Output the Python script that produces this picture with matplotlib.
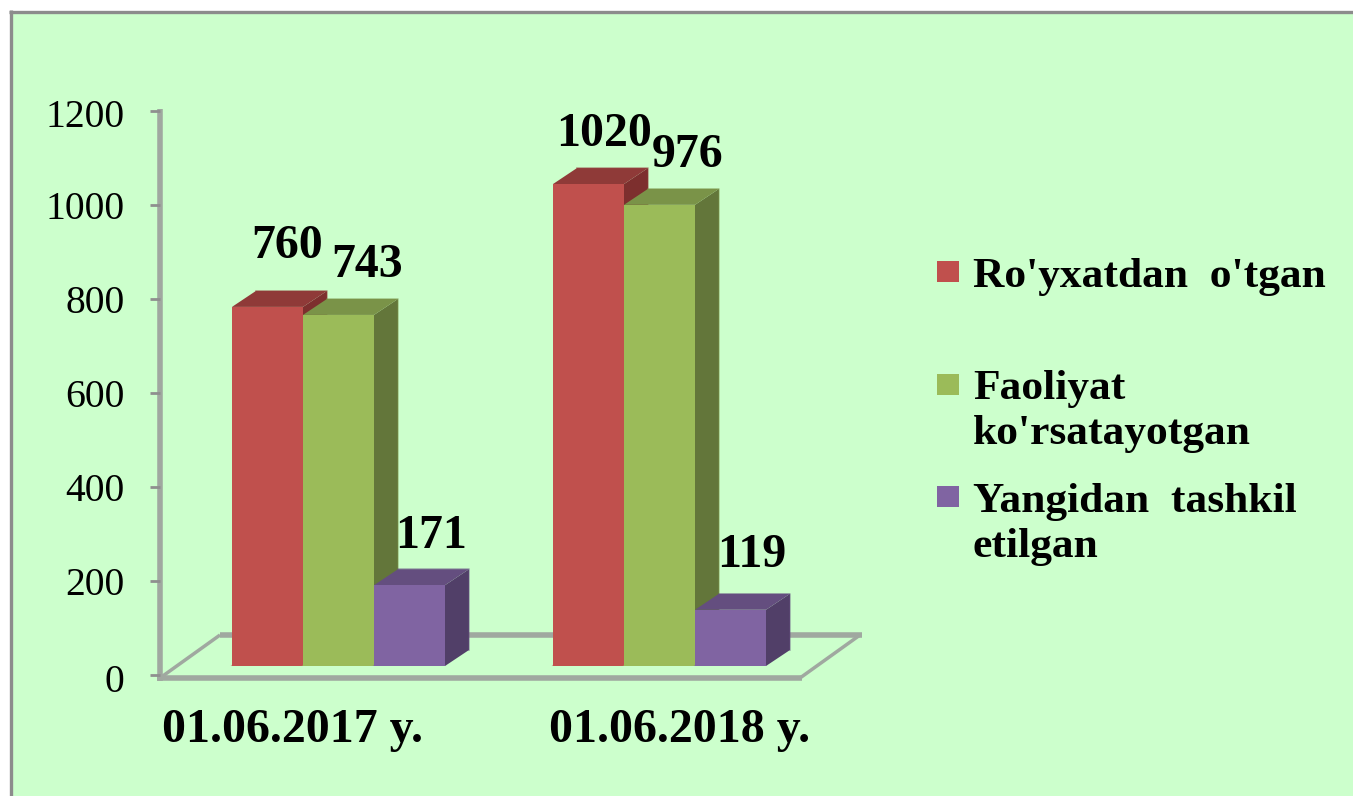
import matplotlib
matplotlib.use("Agg")
import matplotlib.pyplot as plt
from matplotlib.patches import Polygon, Rectangle
from matplotlib.lines import Line2D
from matplotlib.transforms import ScaledTranslation

categories = ["01.06.2017 y.", "01.06.2018 y."]
series_names = ["Ro'yxatdan  o'tgan", "Faoliyat\nko'rsatayotgan", "Yangidan  tashkil\netilgan"]
registered = [760, 1020]
active = [743, 976]
new_created = [171, 119]
y_ticks = [0, 200, 400, 600, 800, 1000, 1200]

W, H = 1353, 796
FRONT = ["#C0504D", "#9BBB59", "#8064A2"]
TOP = ["#8F3A38", "#7A9348", "#644E7F"]
SIDE = ["#7D2F2E", "#63763A", "#513F68"]
GREY = "#A0A8A0"
BG = "#CCFFCC"
SERIF = "Liberation Serif"

fig = plt.figure(figsize=(W / 100, H / 100), dpi=100, facecolor="white")


def fx(p):
    return p / W


def fy(p):
    return 1 - p / H


def line(xs, ys, lw=4.0, color=GREY):
    fig.add_artist(Line2D([fx(v) for v in xs], [fy(v) for v in ys], color=color, lw=lw,
                          solid_capstyle="butt", zorder=1))


# panel
fig.add_artist(Rectangle((fx(10.5), 0), 1 - fx(10.5), fy(11.7), facecolor=BG, edgecolor="none", zorder=0))
line([10.5, 10.5], [10, H], lw=2.4, color="#8C8C8C")
line([9, W], [11.7, 11.7], lw=2.4, color="#8C8C8C")

# floor and value axis
line([160, 160], [109, 681])
line([157, 802], [678, 678])
line([800, 860], [678, 635], lw=2.5)
line([862, 220], [635, 635])
line([220, 160], [635, 678], lw=2.5)

# axis with the tick scale
tick_ax = fig.add_axes([fx(160), fy(675), fx(640), (675 - 111) / H], facecolor="none", zorder=2)
tick_ax.set_ylim(0, 1200)
tick_ax.set_xticks([])
tick_ax.set_yticks(y_ticks)
tick_ax.set_yticklabels([str(v) for v in y_ticks], fontfamily=SERIF, fontsize=28.5, color="black")
tick_ax.tick_params(axis="y", length=7.5, width=2, color="#8F8F8F", pad=18)
nudges_px = [3, 0, 0, 0, 0, 0, 1.5]
for lab, n in zip(tick_ax.get_yticklabels(), nudges_px):
    lab.set_transform(lab.get_transform() + ScaledTranslation(0, -n / 100, fig.dpi_scale_trans))
for s in tick_ax.spines.values():
    s.set_visible(False)

# bars sit on the raised floor plane
PX_Y = 0.4725
PX_X = 321.0
base_px = 666
top_val = (base_px - 60) / PX_Y
ax = fig.add_axes([fx(160), fy(base_px), fx(640), (base_px - 60) / H], facecolor="none", zorder=3)
ax.set_xlim((160 - 338.5) / PX_X, (800 - 338.5) / PX_X)
ax.set_ylim(0, top_val)
ax.axis("off")

bw = 71 / PX_X
dx = 24 / PX_X
dy = 16 / PX_Y
all_series = [registered, active, new_created]
label_off = [[(20, 60.5), (15.5, 50.5)], [(28.5, 49.5), (28, 49.5)], [(22, 49.5), (21, 54.5)]]

for g in range(len(categories)):
    for s, vals in enumerate(all_series):
        v = vals[g]
        x0 = g + (s - 1.5) * bw
        x1 = x0 + bw
        ax.add_patch(Polygon([(x1, 0), (x1 + dx, dy), (x1 + dx, v + dy), (x1, v)], fc=SIDE[s], ec="none", zorder=10 + s))
        ax.add_patch(Polygon([(x0, v), (x0 + dx, v + dy), (x1 + dx, v + dy), (x1, v)], fc=TOP[s], ec="none", zorder=10 + s))
        ax.plot([x0 + dx, x1 + dx, x1 + dx], [v + dy, v + dy, dy], color=TOP[s], alpha=0.45, lw=1.2, zorder=10 + s)
        ax.bar(x0, v, width=bw, align="edge", color=FRONT[s], zorder=10 + s)
        ax.plot([x0, x1], [0, 0], color=FRONT[s], alpha=0.4, lw=1.6, zorder=10 + s)
        ox, oy = label_off[s][g]
        ax.annotate(str(v), xy=(x0 + bw / 2, v), xytext=(ox * 0.72, oy * 0.72), textcoords="offset points",
                    ha="center", va="center", fontfamily=SERIF, fontweight="bold", fontsize=34.5, color="black",
                    annotation_clip=False, zorder=30)

for g, (name, off) in enumerate(zip(categories, [-45.5, 20.5])):
    ax.annotate(name, xy=(g, 0), xytext=(off * 0.72, -64 * 0.72), textcoords="offset points",
                ha="center", va="center", fontfamily=SERIF, fontweight="bold", fontsize=34.5, color="black",
                annotation_clip=False, zorder=30)

# legend
swatch_y = [271, 384, 496]
text_y = [277, 411.5, 524.5]
for name, sy, ty, c in zip(series_names, swatch_y, text_y, FRONT):
    fig.add_artist(Rectangle((fx(937), fy(sy + 11)), 22 / W, 21 / H, facecolor=c, edgecolor="none", zorder=5))
    fig.text(fx(973), fy(ty), name, ha="left", va="center", fontfamily=SERIF, fontweight="bold",
             fontsize=31.3, linespacing=1.23, color="black", zorder=5)

fig.savefig("out.png", dpi=100, facecolor="white")
